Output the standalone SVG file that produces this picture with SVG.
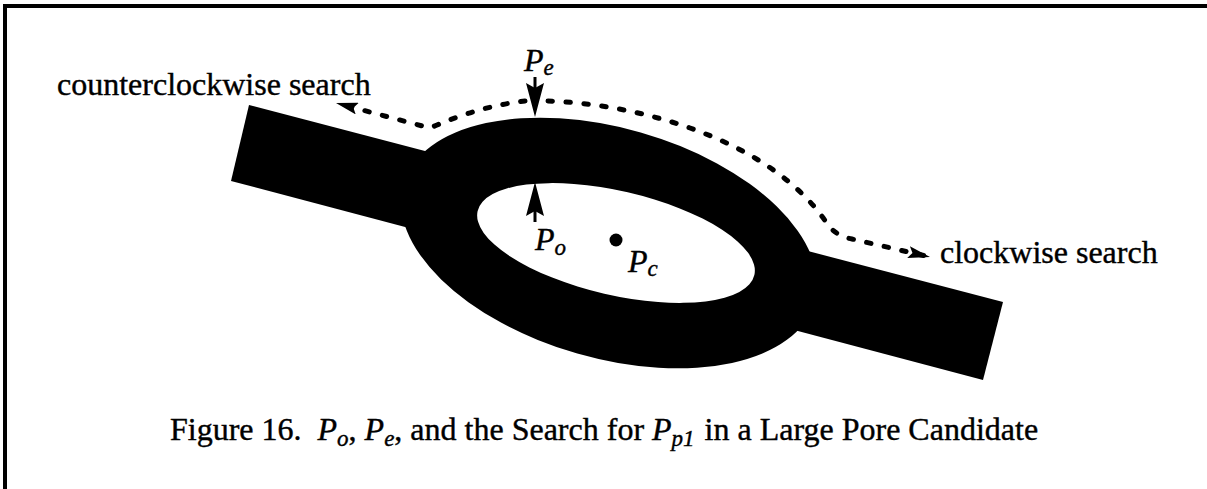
<svg xmlns="http://www.w3.org/2000/svg" width="1207" height="489" viewBox="0 0 1207 489">
<style>
.t{font-family:"Liberation Serif","Times New Roman",serif;font-size:32px;fill:#000;stroke:#000;stroke-width:0.4}
.it{font-style:italic}
.sub{font-size:23px}
.dash{fill:none;stroke:#000;stroke-width:5;stroke-linecap:round;stroke-dasharray:4.5 13.5}
.shaft{fill:none;stroke:#000;stroke-width:3}
.head{fill:none;stroke:none}
</style>
<defs>
<marker id="big" viewBox="0 0 34 20" refX="34" refY="10" markerWidth="34" markerHeight="20" markerUnits="userSpaceOnUse" orient="auto">
<path d="M0,1 L34,10 L0,19 L5,10 Z" fill="#000"/>
</marker>
<marker id="small" viewBox="0 0 22 12" refX="22" refY="6" markerWidth="22" markerHeight="12" markerUnits="userSpaceOnUse" orient="auto">
<path d="M0,0 L22,6 L0,12 L4,6 Z" fill="#000"/>
</marker>
</defs>
<rect width="1207" height="489" fill="#fff"/>
<path d="M5,489 V6 H1207" fill="none" stroke="#000" stroke-width="4"/>
<g id="pore">
<polygon points="249,105 1003,302 983,380 231,181" fill="#000"/>
<ellipse cx="609" cy="243" rx="214" ry="115" transform="rotate(16 609 243)" fill="#000"/>
<ellipse cx="616" cy="243" rx="142" ry="52" transform="rotate(13 616 243)" fill="#fff"/>
<circle id="pc-dot" cx="616" cy="240" r="6.5" fill="#000"/>
</g>
<g id="connectors">
<path class="shaft" d="M535,77 L535,96"/>
<path class="head" d="M535,77 L535,117" marker-end="url(#big)"/>
<path class="shaft" d="M535,222 L535,204"/>
<path class="head" d="M535,222 L535,182" marker-end="url(#big)"/>
<path class="dash" d="M525,101 Q480,106 430,128 L336,103" marker-end="url(#small)"/>
<path class="dash" d="M548,101 C640,104 770,140 826,222 Q835,236 852,239 L930,257" marker-end="url(#small)"/>
</g>
<g id="labels">
<text class="t" x="57" y="95">counterclockwise search</text>
<text class="t" x="940" y="263">clockwise search</text>
<text class="t it" x="524" y="71">P<tspan class="sub" dy="4">e</tspan></text>
<text class="t it" x="535" y="250">P<tspan class="sub" dy="5">o</tspan></text>
<text class="t it" x="628" y="272">P<tspan class="sub" dy="4">c</tspan></text>
<text class="t" x="170" y="440">Figure 16.<tspan class="it" dx="16">P</tspan><tspan class="it sub" dy="6">o</tspan><tspan dy="-6">, </tspan><tspan class="it">P</tspan><tspan class="it sub" dy="6">e</tspan><tspan dy="-6">, and the Search for </tspan><tspan class="it">P</tspan><tspan class="it sub" dy="6">p1</tspan><tspan dy="-6" dx="10">in a Large Pore Candidate</tspan></text>
</g>
</svg>
